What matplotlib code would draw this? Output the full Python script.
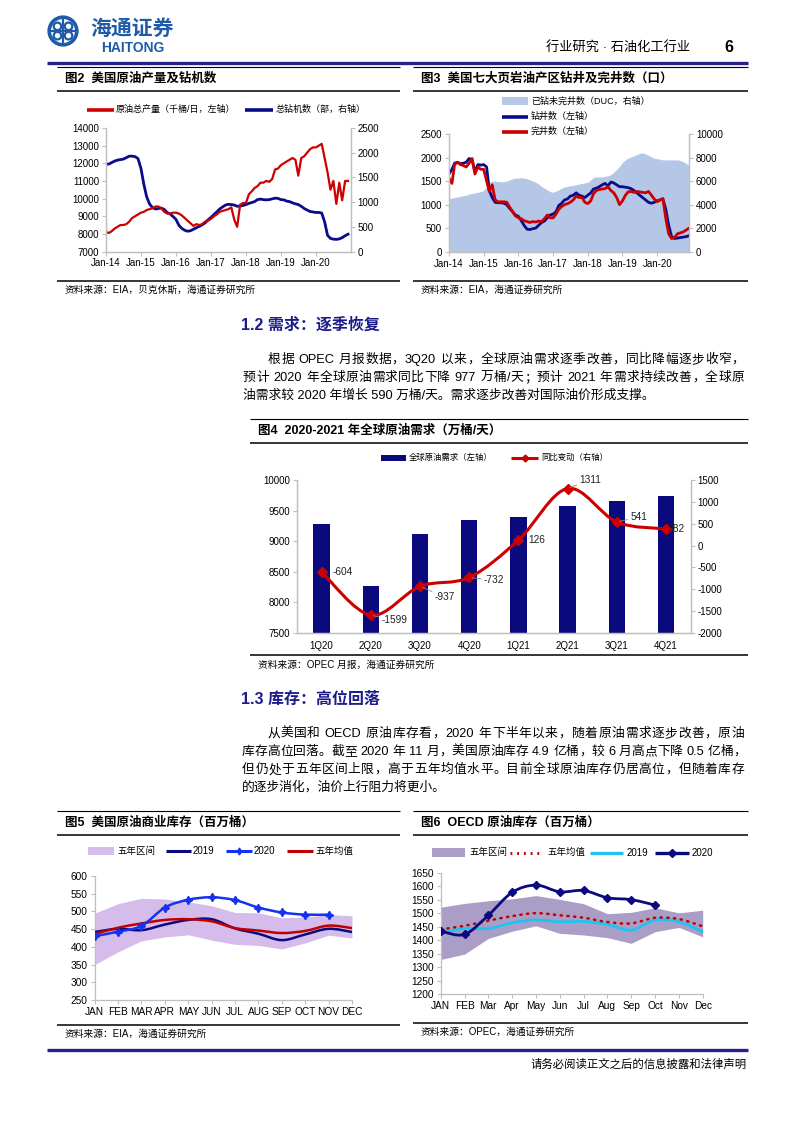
import re
import numpy as np
import pandas as pd
import matplotlib
matplotlib.use('Agg')
import matplotlib.pyplot as plt
from matplotlib.lines import Line2D
from matplotlib.patches import Rectangle, Circle, PathPatch
from matplotlib.path import Path

plt.rcParams['font.family'] = ['Liberation Sans', 'Noto Sans CJK SC']
plt.rcParams['axes.unicode_minus'] = False

# ---------------- data ----------------
months = ['JAN', 'FEB', 'MAR', 'APR', 'MAY', 'JUN', 'JUL', 'AUG', 'SEP', 'OCT', 'NOV', 'DEC']
months6 = ['JAN', 'FEB', 'Mar', 'Apr', 'May', 'Jun', 'Jul', 'Aug', 'Sep', 'Oct', 'Nov', 'Dec']
year_ticks = ['Jan-14', 'Jan-15', 'Jan-16', 'Jan-17', 'Jan-18', 'Jan-19', 'Jan-20']

# fig2: US crude production (kb/d) and rig count, monthly Jan-2014..Dec-2020
us_prod = [8100, 8050, 8150, 8300, 8400, 8500, 8500, 8550, 8700, 8900, 9000, 9100,
           9200, 9250, 9350, 9400, 9450, 9550, 9550, 9450, 9250, 9150, 9150, 9200,
           9200, 9150, 9050, 8900, 8750, 8600, 8450, 8550, 8500, 8550, 8700, 8750,
           8850, 9000, 9100, 9250, 9300, 9350, 9400, 9500, 8800, 8400, 9650, 9750,
           9750, 10250, 10400, 10600, 10700, 10900, 10900, 11000, 10950, 11100, 11650, 11700,
           11900, 12000, 12100, 12200, 12300, 12200, 11300, 12300, 12400, 12600, 12800, 12900,
           12900, 13000, 13100, 12300, 11500, 10500, 11000, 9700, 10900, 9900, 11000, 11000]
us_rigs = [1770, 1770, 1800, 1830, 1850, 1860, 1870, 1900, 1930, 1930, 1920, 1880,
           1680, 1350, 1110, 960, 890, 860, 870, 880, 850, 790, 760, 710,
           650, 530, 470, 430, 410, 420, 450, 480, 510, 540, 580, 640,
           690, 750, 800, 860, 900, 940, 955, 950, 940, 915, 920, 930,
           950, 975, 990, 1010, 1050, 1060, 1050, 1045, 1050, 1065, 1080, 1075,
           1050, 1045, 1020, 1010, 985, 965, 950, 915, 870, 840, 810, 800,
           790, 790, 780, 600, 330, 265, 250, 245, 255, 280, 320, 350]

# fig3: seven shale regions, DUC / drilled / completed
duc = [4500, 4550, 4600, 4650, 4700, 4750, 4800, 4900, 4950, 5000, 5050, 5100,
       5200, 5500, 5900, 6000, 6000, 5950, 5950, 5950, 6000, 6100, 6200, 6250,
       6250, 6300, 6250, 6200, 6100, 6000, 5900, 5750, 5550, 5400, 5250, 5100,
       5050, 5150, 5250, 5400, 5500, 5550, 5600, 5650, 5700, 5750, 5800, 5850,
       5900, 6100, 6300, 6350, 6350, 6350, 6400, 6450, 6550, 6750, 7000, 7250,
       7600, 7800, 7950, 8050, 8150, 8250, 8350, 8400, 8300, 8200, 8050, 7950,
       7900, 7850, 7800, 7800, 7800, 7800, 7800, 7800, 7750, 7650, 7500, 7350]
drilled = [1650, 1750, 1880, 1900, 1870, 1880, 1900, 1980, 1950, 1700, 1850, 1840,
           1850, 1800, 1300, 1150, 1050, 1040, 1040, 1030, 1000, 920, 850, 780,
           750, 660, 560, 480, 470, 490, 500, 560, 620, 650, 720, 780,
           800, 850, 980, 1030, 1100, 1120, 1180, 1200, 1250, 1200, 1180, 1150,
           1200, 1250, 1330, 1350, 1380, 1420, 1450, 1400, 1480, 1460, 1420, 1380,
           1380, 1370, 1360, 1340, 1300, 1250, 1200, 1150, 1100, 1050, 1030, 1050,
           1080, 1100, 1120, 900, 560, 320, 280, 290, 300, 310, 320, 340]
completed = [1560, 1450, 1850, 1900, 1850, 1830, 1800, 1880, 1980, 1650, 1800, 1750,
             1750, 1500, 1280, 1420, 1100, 1060, 1060, 1060, 1050, 950, 850, 760,
             720, 700, 660, 640, 620, 640, 630, 650, 640, 700, 780, 720,
             720, 800, 900, 960, 1000, 1020, 1050, 1100, 1180, 1150, 1150, 1050,
             1020, 1080, 1230, 1300, 1320, 1330, 1340, 1380, 1300, 1250, 1150, 1000,
             1080, 1200, 1270, 1280, 1260, 1280, 1270, 1260, 1250, 1280, 1200, 1120,
             1060, 1100, 1130, 700, 380, 280, 300, 380, 400, 420, 460, 500]

# fig4: global oil demand
quarters = ['1Q20', '2Q20', '3Q20', '4Q20', '1Q21', '2Q21', '3Q21', '4Q21']
demand = [9275, 8264, 9121, 9352, 9401, 9577, 9659, 9736]
yoy = [-604, -1599, -937, -732, 126, 1311, 541, 382]

# fig5: US commercial crude inventories
us_hi = [495, 522, 537, 535, 527, 516, 497, 496, 482, 484, 491, 488]
us_lo = [350, 386, 417, 428, 434, 419, 407, 404, 394, 411, 433, 425]
us_2019 = [442, 451, 447, 463, 476, 478, 452, 437, 419, 435, 451, 442]
us_2020 = [430, 443, 459, 511, 533, 540, 532, 511, 497, 491, 491]
us_avg = [436, 454, 466, 476, 478, 472, 453, 446, 439, 445, 460, 453]

# fig6: OECD crude inventories
oecd_hi = [1522, 1536, 1546, 1553, 1565, 1551, 1535, 1498, 1503, 1520, 1501, 1511]
oecd_lo = [1328, 1348, 1406, 1433, 1453, 1425, 1419, 1409, 1388, 1431, 1447, 1412]
oecd_avg = [1440, 1453, 1472, 1489, 1500, 1492, 1483, 1467, 1462, 1483, 1478, 1451]
oecd_2019 = [1425, 1443, 1443, 1464, 1475, 1468, 1469, 1458, 1437, 1475, 1468, 1431]
oecd_2020 = [1433, 1421, 1492, 1577, 1604, 1579, 1584, 1557, 1550, 1530]

para12 = ['根据 OPEC 月报数据，3Q20 以来，全球原油需求逐季改善，同比降幅逐步收窄，',
          '预计 2020 年全球原油需求同比下降 977 万桶/天；预计 2021 年需求持续改善，全球原',
          '油需求较 2020 年增长 590 万桶/天。需求逐步改善对国际油价形成支撑。']
para13 = ['从美国和 OECD 原油库存看，2020 年下半年以来，随着原油需求逐步改善，原油',
          '库存高位回落。截至 2020 年 11 月，美国原油库存 4.9 亿桶，较 6 月高点下降 0.5 亿桶，',
          '但仍处于五年区间上限，高于五年均值水平。目前全球原油库存仍居高位，但随着库存',
          '的逐步消化，油价上行阻力将更小。']

# ---------------- helpers ----------------
W, H = 793, 1122
fig = plt.figure(figsize=(W / 100, H / 100), dpi=100)
NAVY = '#1B1B8C'
GRID = '#BFBFBF'


def fx(x):
    return x / W


def fy(y):
    return 1 - y / H


def hline(x0, x1, y, lw=0.8, color='black'):
    fig.add_artist(Line2D([fx(x0), fx(x1)], [fy(y), fy(y)], transform=fig.transFigure,
                          lw=lw, color=color, solid_capstyle='butt'))


def txt(x, y, s, size=7, **kw):
    kw.setdefault('va', 'center')
    return fig.text(fx(x), fy(y), s, fontsize=size, **kw)


def add_ax(x0, y0, x1, y1):
    return fig.add_axes([fx(x0), fy(y1), (x1 - x0) / W, (y1 - y0) / H])


def leg_line(x0, x1, y, color, lw=2.2, ls='-', marker=None, ms=5):
    fig.add_artist(Line2D([fx(x0), fx(x1)], [fy(y), fy(y)], transform=fig.transFigure,
                          lw=lw, color=color, ls=ls, solid_capstyle='butt'))
    if marker:
        fig.add_artist(Line2D([fx((x0 + x1) / 2)], [fy(y)], transform=fig.transFigure,
                              marker=marker, color=color, ms=ms, lw=0))


def leg_box(x0, x1, y0, y1, color):
    fig.add_artist(Rectangle((fx(x0), fy(y1)), (x1 - x0) / W, (y1 - y0) / H,
                             transform=fig.transFigure, color=color, lw=0))


def smooth_path(xs, ys):
    pts = np.column_stack([xs, ys]).astype(float)
    verts, codes = [pts[0]], [Path.MOVETO]
    n = len(pts)
    for i in range(n - 1):
        p0 = pts[i - 1] if i > 0 else pts[i]
        p1, p2 = pts[i], pts[i + 1]
        p3 = pts[i + 2] if i + 2 < n else pts[i + 1]
        verts += [p1 + (p2 - p0) / 6, p2 - (p3 - p1) / 6, p2]
        codes += [Path.CURVE4] * 3
    return Path(verts, codes)


def smooth_line(ax, xs, ys, color, lw, ls='-', zorder=3):
    p = PathPatch(smooth_path(xs, ys), fill=False, edgecolor=color, lw=lw,
                  linestyle=ls, zorder=zorder, capstyle='round')
    ax.add_patch(p)


def style_ax(ax, spines=('left', 'bottom'), size=7):
    for s in ax.spines:
        ax.spines[s].set_visible(s in spines)
        ax.spines[s].set_color(GRID)
        ax.spines[s].set_linewidth(0.9)
    ax.tick_params(labelsize=size, length=3, width=0.8, color=GRID, pad=2)
    ax.set_facecolor('none')


def para_line(x0, x1, y, s, size=9.2, justify=True):
    if not justify:
        txt(x0, y, s, size, ha='left')
        return
    r = fig.canvas.get_renderer()
    tokens = re.findall(r'[A-Za-z0-9./]+|.', s)
    widths = []
    for t in tokens:
        if t == ' ':
            widths.append(0.278 * size * 100 / 72)
            continue
        tt = fig.text(0, 0, t, fontsize=size)
        widths.append(tt.get_window_extent(r).width)
        tt.remove()
    gap = (x1 - x0 - sum(widths)) / (len(tokens) - 1)
    x = x0
    for t, w in zip(tokens, widths):
        if t != ' ':
            txt(x, y, t, size, ha='left')
        x += w + gap


def panel_frame(x0, x1, ytop, title, ybot, source):
    hline(x0, x1, ytop, lw=0.8)
    txt(x0 + 8, ytop + 12, title, 9, ha='left', weight='bold')
    hline(x0, x1, ytop + 24, lw=1.1)
    hline(x0, x1, ybot, lw=1.1)
    txt(x0 + 8, ybot + 9, source, 7, ha='left')


# ---------------- header / footer ----------------
lax = add_ax(47, 15, 79, 47)
lax.set_xlim(-1.1, 1.1)
lax.set_ylim(-1.1, 1.1)
lax.set_aspect('equal')
lax.axis('off')
LOGO = '#1F5BA8'
lax.add_patch(Circle((0, 0), 0.95, fill=False, lw=2.6, color=LOGO))
for cx, cy in [(-0.38, 0.32), (0.38, 0.32), (-0.38, -0.32), (0.38, -0.32)]:
    lax.add_patch(Circle((cx, cy), 0.26, fill=False, lw=1.6, color=LOGO))
lax.plot([0, 0], [-0.75, 0.75], color=LOGO, lw=1.6)
lax.plot([-0.75, 0.75], [0, 0], color=LOGO, lw=1.6)
txt(90, 29, '海通证券', 15, ha='left', color=LOGO, weight='bold', style='italic')
txt(101, 48, 'HAITONG', 10, ha='left', color=LOGO, weight='bold')
txt(690, 48, '行业研究 · 石油化工行业', 9.5, ha='right')
txt(729, 47, '6', 11.5, ha='center', weight='bold')
hline(47, 748, 63, lw=2.4, color='#26208A')

hline(47, 748, 1050, lw=2.4, color='#26208A')
txt(747, 1064, '请务必阅读正文之后的信息披露和法律声明', 8.2, ha='right')

# ---------------- fig 2 ----------------
panel_frame(57, 400, 67, '图2  美国原油产量及钻机数', 280.5, '资料来源：EIA，贝克休斯，海通证券研究所')
dates = pd.date_range('2014-01-01', periods=84, freq='MS')
yt = pd.to_datetime(['2014-01-01', '2015-01-01', '2016-01-01', '2017-01-01',
                     '2018-01-01', '2019-01-01', '2020-01-01'])
RED = '#D00000'
BLUE = '#0A0A8C'
leg_line(87, 114, 109.5, RED, lw=2.6)
txt(116, 109.5, '原油总产量（千桶/日，左轴）', 6.5, ha='left')
leg_line(245, 273, 109.5, BLUE, lw=2.6)
txt(276, 109.5, '总钻机数（部，右轴）', 6.5, ha='left')

ax2 = add_ax(106, 128, 350.6, 251.5)
ax2r = ax2.twinx()
ax2r.plot(dates, us_rigs, color=BLUE, lw=2.0)
ax2r.set_ylim(0, 2500)
ax2r.set_yticks(range(0, 2501, 500))
ax2.plot(dates, us_prod, color=RED, lw=1.6)
ax2.set_ylim(7000, 14000)
ax2.set_yticks(range(7000, 14001, 1000))
ax2.set_xlim(pd.Timestamp('2014-01-01'), pd.Timestamp('2020-12-28'))
ax2.set_xticks(yt)
ax2.set_xticklabels(year_ticks)
ax2.set_zorder(ax2r.get_zorder() + 1)
style_ax(ax2, ('left', 'bottom', 'right'))
style_ax(ax2r, ('left', 'bottom', 'right'))

# ---------------- fig 3 ----------------
panel_frame(413, 748, 67, '图3  美国七大页岩油产区钻井及完井数（口）', 280.5, '资料来源：EIA，海通证券研究所')
DUC_C = '#B4C7E7'
DR = '#0A0A8C'
CP = '#CC0000'
leg_box(502, 528, 97, 105, DUC_C)
txt(531, 101, '已钻未完井数（DUC，右轴）', 6.5, ha='left')
leg_line(502, 528, 116.7, DR, lw=2.6)
txt(531, 116.7, '钻井数（左轴）', 6.5, ha='left')
leg_line(502, 528, 131.7, CP, lw=2.6)
txt(531, 131.7, '完井数（左轴）', 6.5, ha='left')

ax3 = add_ax(449, 134, 689, 251.7)
ax3r = ax3.twinx()
ax3r.fill_between(dates, 0, duc, color=DUC_C, lw=0)
ax3r.set_ylim(0, 10000)
ax3r.set_yticks(range(0, 10001, 2000))
ax3.plot(dates, drilled, color=DR, lw=2.0)
ax3.plot(dates, completed, color=CP, lw=2.0)
ax3.set_ylim(0, 2500)
ax3.set_yticks(range(0, 2501, 500))
ax3.set_xlim(pd.Timestamp('2014-01-01'), pd.Timestamp('2020-12-01'))
ax3.set_xticks(yt)
ax3.set_xticklabels(year_ticks)
ax3.set_zorder(ax3r.get_zorder() + 1)
style_ax(ax3, ('left', 'bottom', 'right'))
style_ax(ax3r, ('left', 'bottom', 'right'))

# ---------------- section 1.2 ----------------
txt(241, 325, '1.2 需求：逐季恢复', 11.5, ha='left', weight='bold', color=NAVY)
para_line(268, 744, 360, para12[0])
para_line(243, 744, 378, para12[1])
para_line(243, 744, 396, para12[2], justify=False)

# ---------------- fig 4 ----------------
panel_frame(250, 748, 419, '图4  2020-2021 年全球原油需求（万桶/天）', 655.4, '资料来源：OPEC 月报，海通证券研究所')
BAR = '#0A0A7E'
LR = '#CC0000'
leg_box(381, 406, 455, 461, BAR)
txt(409, 458, '全球原油需求（左轴）', 6, ha='left')
leg_line(511, 538, 458, LR, lw=2.2, marker='D', ms=3.5)
txt(541, 458, '同比变动（右轴）', 6, ha='left')

ax4 = add_ax(297, 480.3, 690.6, 632.6)
xq = np.arange(len(quarters))
ax4.bar(xq, demand, width=0.33, color=BAR, zorder=2)
ax4.set_ylim(7500, 10000)
ax4.set_yticks(range(7500, 10001, 500))
ax4.set_xlim(-0.5, 7.5)
ax4.set_xticks(xq)
ax4.set_xticklabels(quarters)
ax4r = ax4.twinx()
smooth_line(ax4r, xq, yoy, LR, 2.2)
ax4r.plot(xq, yoy, 'D', color=LR, ms=5, zorder=4)
ax4r.set_ylim(-2000, 1500)
ax4r.set_yticks(range(-2000, 1501, 500))
ax4r.set_xlim(-0.5, 7.5)
style_ax(ax4, ('left', 'bottom', 'right'))
style_ax(ax4r, ('left', 'bottom', 'right'))
ax4.tick_params(axis='x', length=0, pad=6)
lab_off = [(21, 0), (24, -5), (25, -11), (25, -3), (18, 0), (23, 9), (22, 5), (10, 0)]
lead = [False, True, True, True, False, True, True, False]
for i, v in enumerate(yoy):
    kw = {}
    if lead[i]:
        kw['arrowprops'] = dict(arrowstyle='-', color='#8C8C8C', lw=0.6, shrinkA=0, shrinkB=2)
    ax4r.annotate(str(v), (xq[i], v), xytext=lab_off[i], textcoords='offset pixels',
                  ha='center', va='center', fontsize=7.3, color='#222222', zorder=6, **kw)

# ---------------- section 1.3 ----------------
txt(241, 699, '1.3 库存：高位回落', 11.5, ha='left', weight='bold', color=NAVY)
para_line(267, 744, 734, para13[0])
para_line(242, 746, 752, para13[1])
para_line(242, 744, 770, para13[2])
para_line(242, 744, 787, para13[3], justify=False)

# ---------------- fig 5 ----------------
panel_frame(57, 400, 811, '图5  美国原油商业库存（百万桶）', 1024.5, '资料来源：EIA，海通证券研究所')
BAND5 = '#D6BCEA'
C19 = '#0A0A80'
C20 = '#1432F0'
CAV = '#C00000'
leg_box(88, 114, 847, 855, BAND5)
txt(117, 851, '五年区间', 6.8, ha='left')
leg_line(166, 191, 851, C19, lw=2.2)
txt(193, 851, '2019', 7, ha='left')
leg_line(226, 252, 851, C20, lw=2.2, marker=(4, 1, 0), ms=5)
txt(254, 851, '2020', 7, ha='left')
leg_line(287, 313, 851, CAV, lw=2.2)
txt(316, 851, '五年均值', 6.8, ha='left')

ax5 = add_ax(94.7, 876, 352, 1000)
xm = np.arange(12)
ax5.fill_between(xm, us_lo, us_hi, color=BAND5, lw=0, zorder=1)
smooth_line(ax5, xm, us_2019, C19, 1.8)
smooth_line(ax5, xm, us_avg, CAV, 1.8)
smooth_line(ax5, xm[:len(us_2020)], us_2020, C20, 1.8, zorder=4)
ax5.plot(xm[:len(us_2020)], us_2020, ls='none', marker=(4, 1, 0), ms=6, color=C20, zorder=5)
ax5.set_xlim(0, 11)
ax5.set_ylim(250, 600)
ax5.set_yticks(range(250, 601, 50))
ax5.set_xticks(xm)
ax5.set_xticklabels(months)
style_ax(ax5, ('left', 'bottom'), size=7.3)

# ---------------- fig 6 ----------------
panel_frame(413, 748, 811, '图6  OECD 原油库存（百万桶）', 1022.5, '资料来源：OPEC，海通证券研究所')
BAND6 = '#AA9DC6'
O19 = '#1EC3F2'
O20 = '#0A0A80'
leg_box(432, 465, 848, 857, BAND6)
txt(469, 852.7, '五年区间', 6.8, ha='left')
leg_line(510, 541, 852.7, CAV, lw=2.2, ls=(0, (0.6, 1.6)))
txt(548, 852.7, '五年均值', 6.8, ha='left')
leg_line(590, 623, 852.7, O19, lw=2.4)
txt(627, 852.7, '2019', 7, ha='left')
leg_line(655, 689, 852.7, O20, lw=2.4, marker='D', ms=4)
txt(692, 852.7, '2020', 7, ha='left')

ax6 = add_ax(440.7, 872.7, 702.7, 994)
ax6.fill_between(xm, oecd_lo, oecd_hi, color=BAND6, lw=0, zorder=1)
smooth_line(ax6, xm, oecd_2019, O19, 2.0)
smooth_line(ax6, xm, oecd_avg, CAV, 1.8, ls=(0, (0.5, 2.2)))
smooth_line(ax6, xm[:len(oecd_2020)], oecd_2020, O20, 2.0, zorder=4)
ax6.plot(xm[:len(oecd_2020)], oecd_2020, ls='none', marker='D', ms=4.5, color=O20, zorder=5)
ax6.set_xlim(0, 11)
ax6.set_ylim(1200, 1650)
ax6.set_yticks(range(1200, 1651, 50))
ax6.set_xticks(xm)
ax6.set_xticklabels(months6)
style_ax(ax6, ('left', 'bottom'), size=7.3)

fig.savefig('out.png', dpi=100)
